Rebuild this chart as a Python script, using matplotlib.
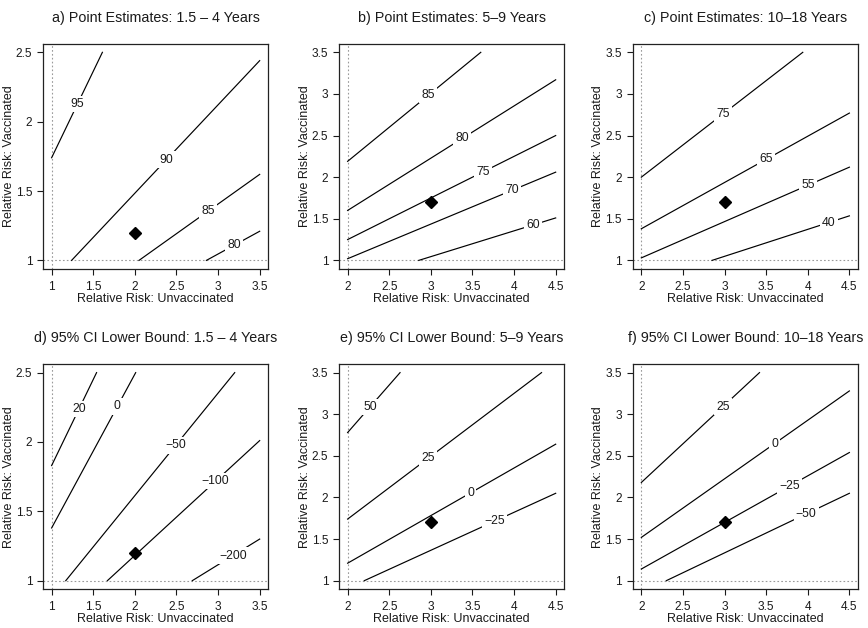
import matplotlib
matplotlib.use("Agg")
import matplotlib.pyplot as plt
import numpy as np

plt.rcParams['font.family'] = ['Liberation Sans', 'DejaVu Sans']

titles = ["a) Point Estimates: 1.5 \u2013 4 Years",
          "b) Point Estimates: 5\u20139 Years",
          "c) Point Estimates: 10\u201318 Years",
          "d) 95% CI Lower Bound: 1.5 \u2013 4 Years",
          "e) 95% CI Lower Bound: 5\u20139 Years",
          "f) 95% CI Lower Bound: 10\u201318 Years"]

# x / y ranges of each panel
young_x = [1, 1.5, 2, 2.5, 3, 3.5]
young_y = [1, 1.5, 2, 2.5]
old_x = [2, 2.5, 3, 3.5, 4, 4.5]
old_y = [1, 1.5, 2, 2.5, 3, 3.5]

# observed relative risks (diamond)
obs_young = (2.0, 1.2)
obs_old = (3.0, 1.7)

# contour lines: (level, x start, y start, x end, y end, label x)
a_lines = [(95, 1.0, 1.74, 1.61, 2.50, 1.31),
           (90, 1.24, 1.0, 3.5, 2.44, 2.38),
           (85, 2.05, 1.0, 3.5, 1.62, 2.88),
           (80, 2.86, 1.0, 3.5, 1.21, 3.19)]
b_lines = [(85, 2.0, 2.19, 3.60, 3.50, 2.97),
           (80, 2.0, 1.60, 4.5, 3.17, 3.38),
           (75, 2.0, 1.25, 4.5, 2.50, 3.63),
           (70, 2.0, 1.02, 4.5, 2.06, 3.98),
           (60, 2.855, 1.0, 4.5, 1.51, 4.23)]
c_lines = [(75, 2.0, 2.00, 3.94, 3.50, 2.98),
           (65, 2.0, 1.38, 4.5, 2.77, 3.50),
           (55, 2.0, 1.03, 4.5, 2.12, 4.00),
           (40, 2.85, 1.0, 4.5, 1.535, 4.25)]
d_lines = [(20, 1.0, 1.83, 1.54, 2.50, 1.33),
           (0, 1.0, 1.38, 2.01, 2.50, 1.79),
           (-50, 1.17, 1.0, 3.20, 2.50, 2.49),
           (-100, 1.67, 1.0, 3.5, 2.01, 2.97),
           (-200, 2.69, 1.0, 3.5, 1.30, 3.18)]
e_lines = [(50, 2.0, 2.78, 2.63, 3.50, 2.27),
           (25, 2.0, 1.74, 4.33, 3.50, 2.97),
           (0, 2.0, 1.21, 4.5, 2.64, 3.48),
           (-25, 2.2, 1.0, 4.5, 2.05, 3.77)]
f_lines = [(25, 2.0, 2.18, 3.42, 3.50, 2.98),
           (0, 2.0, 1.52, 4.5, 3.28, 3.60),
           (-25, 2.0, 1.14, 4.5, 2.54, 3.78),
           (-50, 2.3, 1.0, 4.5, 2.05, 3.98)]

panels = [(a_lines, young_x, young_y, obs_young),
          (b_lines, old_x, old_y, obs_old),
          (c_lines, old_x, old_y, obs_old),
          (d_lines, young_x, young_y, obs_young),
          (e_lines, old_x, old_y, obs_old),
          (f_lines, old_x, old_y, obs_old)]

W, H = 868, 628
fig = plt.figure(figsize=(W / 100, H / 100), dpi=100)
lefts = [43.3, 339.3, 633.0]
tops = [44.0, 364.3]
size = 224.7
ink = '#1a1a1a'


def fmt(v):
    s = ('%g' % v)
    return s.replace('-', '\u2212')


for i, (lines, xt, yt, obs) in enumerate(panels):
    r, c = divmod(i, 3)
    ax = fig.add_axes([lefts[c] / W, (H - tops[r] - size) / H, size / W, size / H])
    xr = xt[-1] - xt[0]
    yr = yt[-1] - yt[0]
    ax.set_xlim(xt[0] - 0.04 * xr, xt[-1] + 0.04 * xr)
    ax.set_ylim(yt[0] - 0.04 * yr, yt[-1] + 0.04 * yr)

    # reference lines at RR = 1 / lowest x
    ax.axvline(xt[0], color='#9a9a9a', lw=0.8, ls=(0, (1.5, 2)), zorder=1)
    ax.axhline(1, color='#9a9a9a', lw=0.8, ls=(0, (1.5, 2)), zorder=1)

    for lev, x0, y0, x1, y1, lx in lines:
        ax.plot([x0, x1], [y0, y1], color='black', lw=0.85, zorder=2)
        ly = y0 + (y1 - y0) * (lx - x0) / (x1 - x0)
        ax.text(lx, ly, fmt(lev), fontsize=8.8, ha='center', va='center', zorder=3,
                color=ink, bbox=dict(facecolor='white', edgecolor='none', pad=1.6))

    ax.plot([obs[0]], [obs[1]], marker='D', color='black', ms=6.5, zorder=4)

    ax.set_xticks(xt)
    ax.set_xticklabels([fmt(v) for v in xt])
    ax.set_yticks(yt)
    ax.set_yticklabels([fmt(v) for v in yt])
    ax.tick_params(direction='out', length=4, width=0.8, labelsize=8.6, pad=5,
                   colors=ink)
    ax.tick_params(axis='y', pad=4)
    for sp in ax.spines.values():
        sp.set_linewidth(0.9)
        sp.set_color('#222222')
    ax.set_xlabel("Relative Risk: Unvaccinated", fontsize=9, color=ink)
    ax.set_ylabel("Relative Risk: Vaccinated", fontsize=9, color=ink)
    ax.xaxis.set_label_coords(0.5, -0.108)
    ax.yaxis.set_label_coords(-0.128, 0.5)
    ax.set_title(titles[i], fontsize=10.3, pad=16, color=ink)

fig.savefig("out.png", dpi=100)
